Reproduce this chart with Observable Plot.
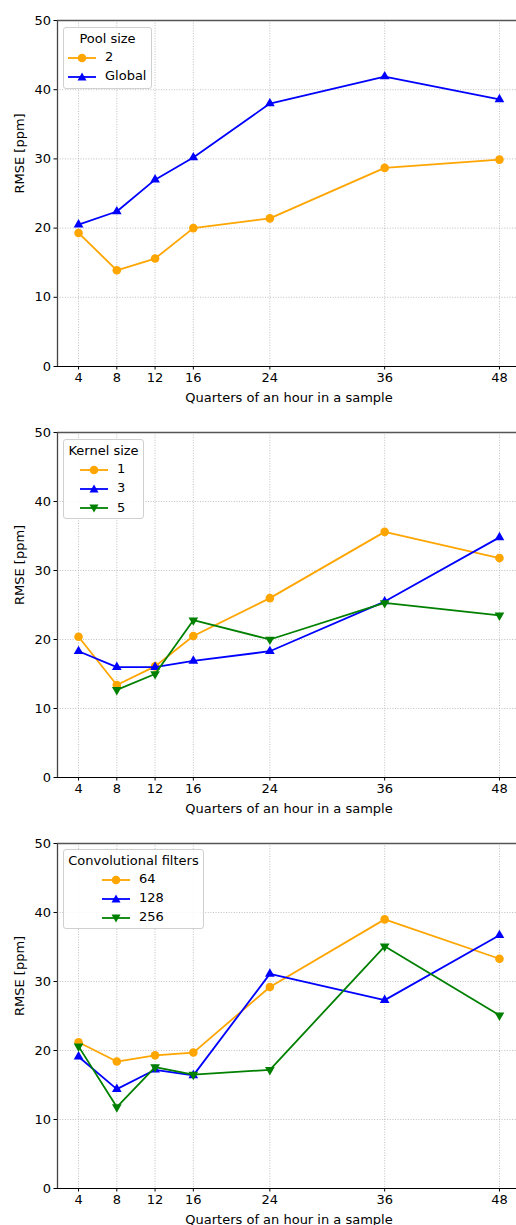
<!DOCTYPE html>
<html>
<head>
<meta charset="utf-8">
<script src="https://cdn.jsdelivr.net/npm/d3@7"></script>
<script src="https://cdn.jsdelivr.net/npm/@observablehq/plot@0.6"></script>
<style>
  html, body { margin: 0; padding: 0; background: #fff; }
  body { width: 516px; height: 1225px; overflow: hidden; font-family: "DejaVu Sans", sans-serif; }
  .panel { position: relative; width: 516px; height: 411px; overflow: hidden; }
  .legend { position: absolute; background: rgba(255,255,255,0.85); border: 1px solid #d0d0d0; border-radius: 3px;
    box-sizing: border-box; font-size: 13px; color: #000; }
  .legend .title { position: absolute; left: 0; right: 0; text-align: center; line-height: 15px; }
  .legend .entry { position: absolute; height: 14px; line-height: 14px; white-space: nowrap; }
  .legend svg { vertical-align: middle; }
</style>
</head>
<body>
<div id="root"></div>
<script>
// ---- data ----
const xValues = [4, 8, 12, 16, 24, 36, 48];
const xTicks = [4, 8, 12, 16, 24, 36, 48];
const yTicks = [0, 10, 20, 30, 40, 50];

// Panel 1: Pool size
const poolLabels = ["2", "Global"];
const pool2 = [19.3, 13.9, 15.6, 20.0, 21.4, 28.7, 29.9];
const poolGlobal = [20.5, 22.4, 27.0, 30.2, 38.0, 41.9, 38.6];

// Panel 2: Kernel size
const kernelLabels = ["1", "3", "5"];
const kernel1 = [20.4, 13.4, 16.1, 20.5, 26.0, 35.6, 31.8];
const kernel3 = [18.3, 16.0, 16.0, 16.9, 18.3, 25.5, 34.8];
const kernel5 = [null, 12.7, 15.0, 22.8, 20.0, 25.3, 23.5];

// Panel 3: Convolutional filters
const filterLabels = ["64", "128", "256"];
const filters64 = [21.2, 18.4, 19.3, 19.7, 29.2, 39.0, 33.3];
const filters128 = [19.1, 14.4, 17.2, 16.4, 31.1, 27.3, 36.7];
const filters256 = [20.6, 11.8, 17.6, 16.5, 17.2, 35.1, 25.1];

const colors = ["orange", "blue", "green"];
const symbols = ["circle", "triangle", "triangleDown"];

function rows(values) {
  return xValues.map((x, i) => ({x, y: values[i]})).filter(d => d.y != null);
}

function seriesMarks(values, k) {
  const data = rows(values);
  const sym = symbols[k];
  const dotOpts = {x: "x", y: "y", fill: colors[k], stroke: "none",
    symbol: sym === "circle" ? "circle" : "triangle",
    r: sym === "circle" ? 4.3 : 3.6};
  if (sym === "triangleDown") dotOpts.rotate = 180;
  return [
    Plot.line(data, {x: "x", y: "y", stroke: colors[k], strokeWidth: 1.8}),
    Plot.dot(data, dotOpts)
  ];
}

function panel(seriesList, marginTop) {
  const marks = [
    Plot.gridX(xTicks, {stroke: "#b0b0b0", strokeOpacity: 1, strokeWidth: 0.8, strokeDasharray: "1,1.6"}),
    Plot.gridY(yTicks.slice(1, -1), {stroke: "#b0b0b0", strokeOpacity: 1, strokeWidth: 0.8, strokeDasharray: "1,1.6"}),
    Plot.ruleY([50], {stroke: "#555", strokeWidth: 1.6}),
    Plot.ruleX([1.8], {stroke: "#444", strokeWidth: 1.3}),
    Plot.ruleY([0], {stroke: "#000", strokeWidth: 1}),
    Plot.text(["Quarters of an hour in a sample"], {frameAnchor: "bottom", dy: 35, fontSize: 13, fill: "#000"}),
    Plot.text(["RMSE [ppm]"], {frameAnchor: "left", rotate: -90, dx: -38, fontSize: 13, fill: "#000"})
  ];
  seriesList.forEach((vals, k) => marks.push(...seriesMarks(vals, k)));
  return Plot.plot({
    width: 516,
    height: 411,
    marginLeft: 57,
    marginRight: -4,
    marginTop: marginTop,
    marginBottom: 45,
    style: {fontFamily: "DejaVu Sans, sans-serif", fontSize: "13px", color: "#000", background: "transparent", overflow: "hidden"},
    x: {domain: [1.8, 50.2], ticks: xTicks, tickSize: 3.5, tickPadding: 3, label: null, tickFormat: d => String(d)},
    y: {domain: [0, 50], ticks: yTicks, tickSize: 3.5, tickPadding: 3, label: null},
    marks
  });
}

function markerSvg(k) {
  const c = colors[k];
  let m;
  if (symbols[k] === "circle") m = `<circle cx="14" cy="7" r="4.3" fill="${c}"/>`;
  else if (symbols[k] === "triangle") m = `<path d="M14,2.5 L18.5,10.5 L9.5,10.5 Z" fill="${c}"/>`;
  else m = `<path d="M14,11.5 L18.5,3.5 L9.5,3.5 Z" fill="${c}"/>`;
  return `<svg width="28" height="14"><line x1="0" y1="7" x2="28" y2="7" stroke="${c}" stroke-width="1.8"/>${m}</svg>`;
}

function legend(container, spec) {
  const box = document.createElement("div");
  box.className = "legend";
  box.style.left = spec.left + "px";
  box.style.top = spec.top + "px";
  box.style.width = spec.width + "px";
  box.style.height = spec.height + "px";
  let html = `<div class="title" style="top:${spec.titleTop}px">${spec.title}</div>`;
  spec.labels.forEach((lab, k) => {
    html += `<div class="entry" style="left:${spec.entryLeft}px;top:${spec.entryTop + k * spec.step}px">${markerSvg(k)}<span style="margin-left:9px">${lab}</span></div>`;
  });
  box.innerHTML = html;
  container.appendChild(box);
}

const root = document.getElementById("root");
const specs = [
  {series: [pool2, poolGlobal], mt: 20,
   legend: {left: 63, top: 27, width: 89, height: 62, title: "Pool size", titleTop: 3, labels: poolLabels, entryLeft: 4, entryTop: 22, step: 19}},
  {series: [kernel1, kernel3, kernel5], mt: 21,
   legend: {left: 63, top: 28, width: 81, height: 80, title: "Kernel size", titleTop: 3, labels: kernelLabels, entryLeft: 16, entryTop: 22, step: 19.3}},
  {series: [filters64, filters128, filters256], mt: 21,
   legend: {left: 63, top: 27, width: 141, height: 80, title: "Convolutional filters", titleTop: 3, labels: filterLabels, entryLeft: 38, entryTop: 22, step: 19.2}}
];
specs.forEach(s => {
  const div = document.createElement("div");
  div.className = "panel";
  div.appendChild(panel(s.series, s.mt));
  legend(div, s.legend);
  root.appendChild(div);
});
</script>
</body>
</html>
